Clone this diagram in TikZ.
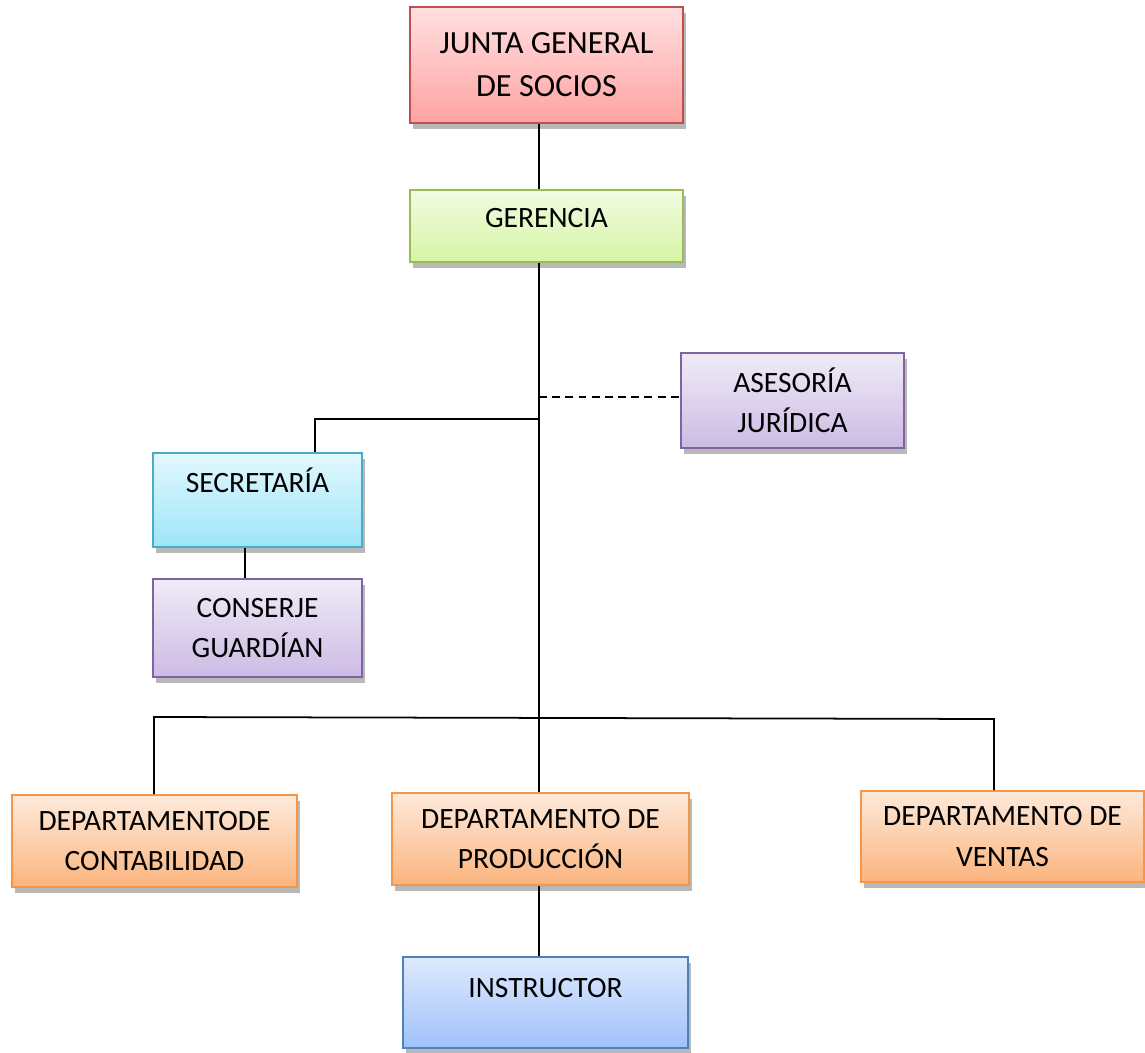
\documentclass[tikz,border=0pt]{standalone}
\usepackage{fontspec}
\setmainfont{Carlito}
\usetikzlibrary{shadows, calc}
\definecolor{redtop}{RGB}{255, 224, 224}
\definecolor{redbot}{RGB}{255, 163, 163}
\definecolor{redline}{RGB}{192, 80, 77}
\definecolor{greentop}{RGB}{242, 251, 226}
\definecolor{greenbot}{RGB}{214, 245, 165}
\definecolor{greenline}{RGB}{155, 187, 89}
\definecolor{violettop}{RGB}{240, 235, 247}
\definecolor{violetbot}{RGB}{204, 187, 228}
\definecolor{violetline}{RGB}{128, 100, 162}
\definecolor{cyantop}{RGB}{226, 248, 254}
\definecolor{cyanbot}{RGB}{158, 229, 249}
\definecolor{cyanline}{RGB}{75, 172, 198}
\definecolor{orangetop}{RGB}{253, 234, 219}
\definecolor{orangebot}{RGB}{251, 180, 126}
\definecolor{orangeline}{RGB}{247, 150, 70}
\definecolor{bluetop}{RGB}{222, 234, 253}
\definecolor{bluebot}{RGB}{160, 194, 250}
\definecolor{blueline}{RGB}{79, 129, 189}

\begin{document}
\begin{tikzpicture}[x=0.02cm, y=-0.02cm,
        unit/.style={rectangle, line width=1pt, align=center, inner sep=2pt,
            font=\fontsize{16.8}{23}\selectfont,
            drop shadow={shadow xshift=1.5pt, shadow yshift=-3.5pt, fill=black, opacity=0.28}},
        board/.style={unit, draw=redline, top color=redtop, bottom color=redbot,
            font=\fontsize{18.4}{24.5}\selectfont},
        manager/.style={unit, draw=greenline, top color=greentop, bottom color=greenbot},
        support/.style={unit, draw=violetline, top color=violettop, bottom color=violetbot},
        office/.style={unit, draw=cyanline, top color=cyantop, bottom color=cyanbot},
        dept/.style={unit, draw=orangeline, top color=orangetop, bottom color=orangebot},
        staff/.style={unit, draw=blueline, top color=bluetop, bottom color=bluebot},
        link/.style={line width=1pt}
    ]
    \useasboundingbox (0,0) rectangle (1145,1053);

    \node[board, minimum width=5.46cm, minimum height=2.32cm] (junta) at (546.5,65) {JUNTA GENERAL\\DE SOCIOS};
    \node[manager, minimum width=5.46cm, minimum height=1.44cm, text depth=9pt] (gerencia) at (546.5,226) {GERENCIA};
    \node[support, minimum width=4.46cm, minimum height=1.9cm] (asesoria) at (792.5,400.5) {ASESORÍA\\JURÍDICA};
    \node[office, minimum width=4.18cm, minimum height=1.88cm] (secretaria) at (257.5,500) {SECRETARÍA\\\mbox{}};
    \node[support, minimum width=4.18cm, minimum height=1.96cm] (conserje) at (257.5,628) {CONSERJE\\GUARDÍAN};

    \node[dept, minimum width=5.7cm, minimum height=1.84cm] (contab) at (154.5,841) {DEPARTAMENTODE\\CONTABILIDAD};
    \node[dept, minimum width=5.94cm, minimum height=1.84cm] (produccion) at (540.5,839) {DEPARTAMENTO DE\\PRODUCCIÓN};
    \node[dept, minimum width=5.66cm, minimum height=1.82cm] (ventas) at (1002.5,836.5) {DEPARTAMENTO DE\\VENTAS};
    \node[staff, minimum width=5.7cm, minimum height=1.82cm] (instructor) at (545.5,1002.5) {INSTRUCTOR\\[-6pt]\mbox{}};

    % main trunk and its joints
    \coordinate (trunk) at (539,397);
    \coordinate (secjoint) at (539,419);
    \coordinate (secdrop) at (315,419);
    \coordinate (cline) at (245,0);
    \coordinate (busL) at (154,717);
    \coordinate (busR) at (994,719);

    \draw[link] (junta.south -| trunk) -- (gerencia.north -| trunk);
    \draw[link] (gerencia.south -| trunk) -- (produccion.north -| trunk);
    \draw[link, dash pattern=on 4.5pt off 3pt] (trunk) -- (trunk -| asesoria.west);
    \draw[link] (secjoint) -- (secdrop) -- (secdrop |- secretaria.north);
    \draw[link] (secretaria.south -| cline) -- (conserje.north -| cline);

    % department bus
    \draw[link] (busL |- contab.north) -- (busL) -- (busR) -- (busR |- ventas.north);
    \draw[link] (produccion.south -| trunk) -- (instructor.north -| trunk);
\end{tikzpicture}
\end{document}
